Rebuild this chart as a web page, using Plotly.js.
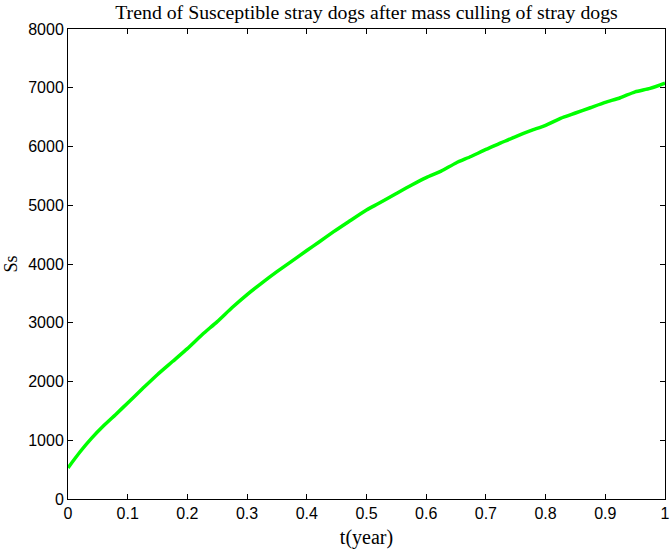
<!DOCTYPE html>
<html>
<head>
<meta charset="utf-8">
<script src="https://cdn.plot.ly/plotly-3.0.1.min.js"></script>
<style>html,body{margin:0;padding:0;background:#fff;}#chart{width:670px;height:549px;}</style>
</head>
<body>
<div id="chart"></div>
<script>
const tYear = [0, 0.02, 0.04, 0.06, 0.08, 0.1, 0.125, 0.15, 0.175, 0.2, 0.225, 0.25, 0.275, 0.3, 0.325, 0.35, 0.375, 0.4, 0.42, 0.445, 0.47, 0.5, 0.52, 0.55, 0.575, 0.6, 0.625, 0.65, 0.675, 0.7, 0.725, 0.75, 0.775, 0.8, 0.825, 0.85, 0.875, 0.9, 0.925, 0.95, 0.975, 1.0];
const susceptible = [530, 800, 1040, 1250, 1440, 1635, 1880, 2120, 2340, 2560, 2800, 3020, 3260, 3480, 3680, 3870, 4050, 4230, 4370, 4550, 4720, 4920, 5030, 5200, 5340, 5470, 5580, 5720, 5830, 5950, 6060, 6170, 6270, 6360, 6480, 6570, 6660, 6750, 6830, 6930, 6990, 7080];
const xTickVals = [0, 0.1, 0.2, 0.3, 0.4, 0.5, 0.6, 0.7, 0.8, 0.9, 1];
const xTickText = ["0", "0.1", "0.2", "0.3", "0.4", "0.5", "0.6", "0.7", "0.8", "0.9", "1"];
const yTickVals = [0, 1000, 2000, 3000, 4000, 5000, 6000, 7000, 8000];
const yTickText = ["0", "1000", "2000", "3000", "4000", "5000", "6000", "7000", "8000"];

const trace = {
  x: tYear, y: susceptible, type: 'scatter', mode: 'lines',
  line: {color: '#00ff00', width: 3.5, shape: 'spline', smoothing: 0.6}, hoverinfo: 'skip'
};
const serif = 'Liberation Serif, Times New Roman, serif';
const sans = 'Liberation Sans, Arial, Helvetica, sans-serif';
const layout = {
  width: 670, height: 549,
  margin: {l: 68, r: 5, t: 29, b: 50, pad: 0},
  paper_bgcolor: '#fff', plot_bgcolor: '#fff',
  showlegend: false,
  title: {text: 'Trend of Susceptible stray dogs after mass culling of stray dogs',
          font: {family: serif, size: 19.8, color: '#000'}, xref: 'paper', x: 0.5, xanchor: 'center', y: 0.978, yanchor: 'middle'},
  xaxis: {
    range: [0, 1], tickvals: xTickVals, ticktext: xTickText,
    ticks: 'inside', ticklen: 5, tickwidth: 1, tickcolor: '#000',
    showline: true, linecolor: '#000', linewidth: 1, mirror: 'ticks',
    showgrid: false, zeroline: false,
    tickfont: {family: sans, size: 16, color: '#000'},
    title: {text: 't(year)', font: {family: serif, size: 20, color: '#000'}, standoff: 9}
  },
  yaxis: {
    range: [0, 8000], tickvals: yTickVals, ticktext: yTickText,
    ticks: 'inside', ticklen: 5, tickwidth: 1, tickcolor: '#000',
    showline: true, linecolor: '#000', linewidth: 1, mirror: 'ticks',
    showgrid: false, zeroline: false,
    tickfont: {family: sans, size: 16, color: '#000'},
    title: {text: 'Ss', font: {family: serif, size: 18, color: '#000'}, standoff: 5}
  }
};
Plotly.newPlot('chart', [trace], layout, {staticPlot: true, displayModeBar: false});
</script>
</body>
</html>
